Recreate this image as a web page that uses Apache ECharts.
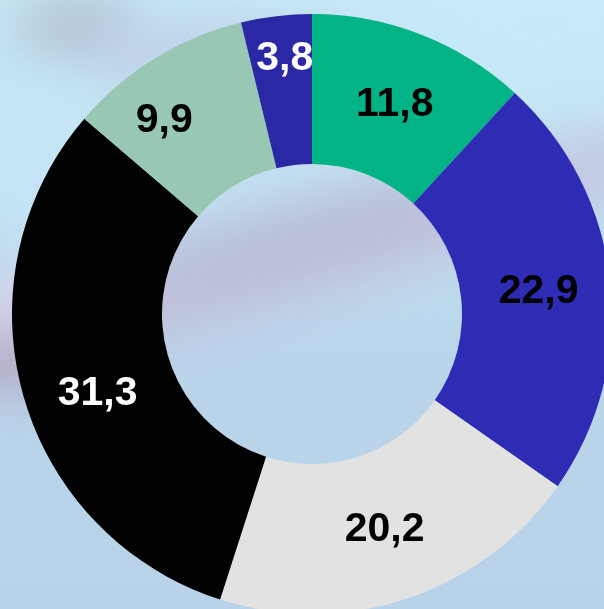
<!DOCTYPE html>
<html>
<head>
<meta charset="utf-8">
<style>
  html, body { margin: 0; padding: 0; width: 604px; height: 609px; overflow: hidden; }
  #bg { position: absolute; left: 0; top: 0; width: 604px; height: 609px; overflow: hidden;
        background: linear-gradient(to bottom, #c7eaf7 0%, #c4e5f5 20%, #bfdcef 40%, #bad5ea 60%, #b8d3e9 100%); }
  .blob { position: absolute; border-radius: 50%; filter: blur(26px); }
  #chart { position: absolute; left: 0; top: 0; width: 604px; height: 609px; }
</style>
<script src="https://cdn.jsdelivr.net/npm/echarts@6/dist/echarts.min.js"></script>
</head>
<body>
<div id="bg">
  <div class="blob" style="left:10px;top:-10px;width:130px;height:70px;background:rgba(172,182,200,0.7)"></div>
  <div class="blob" style="left:100px;top:20px;width:260px;height:80px;background:rgba(190,198,228,0.7)"></div>
  <div class="blob" style="left:-120px;top:215px;width:860px;height:80px;background:rgba(196,180,212,0.65);transform:rotate(-17deg)"></div>
  <div class="blob" style="left:120px;top:200px;width:380px;height:60px;background:rgba(176,182,206,0.5);transform:rotate(-14deg)"></div>
  <div class="blob" style="left:-50px;top:330px;width:150px;height:60px;background:rgba(176,166,190,0.8)"></div>
  <div class="blob" style="left:-50px;top:270px;width:150px;height:60px;background:rgba(222,214,234,0.75)"></div>
  <div class="blob" style="left:-40px;top:90px;width:160px;height:160px;background:rgba(198,230,246,0.7)"></div>
  <div class="blob" style="left:430px;top:-30px;width:220px;height:110px;background:rgba(198,234,248,0.8)"></div>
</div>
<div id="chart"></div>
<script>
  // Share of each group, clockwise from 12 o'clock
  const categories = ['A', 'B', 'C', 'D', 'E', 'F'];
  const values = [11.8, 22.9, 20.2, 31.3, 9.9, 3.8];
  const sliceColors = ['#02b386', '#2e2bb4', '#e2e2e2', '#000000', '#98c8b3', '#2b28a6'];
  const labelColors = ['#000', '#000', '#000', '#fff', '#000', '#fff'];

  // Per-label placement tweaks: horizontal padding, and an empty
  // line above/below (with its line height) to lift or drop the text
  const labelTweaks = [
    { lift: 0, drop: 6, padding: 0 },
    { lift: 0, drop: 4, padding: 0 },
    { lift: 0, drop: 0, padding: 0 },
    { lift: 0, drop: 36, padding: [0, 0, 0, 10] },
    { lift: 0, drop: 3, padding: [0, 57, 0, 0] },
    { lift: 58, drop: 0, padding: 0 }
  ];

  const fmt = v => v.toFixed(1).replace('.', ',');

  const chart = echarts.init(document.getElementById('chart'), null, { renderer: 'canvas' });
  chart.setOption({
    backgroundColor: 'transparent',
    animation: false,
    series: [{
      type: 'pie',
      center: [312, 314],
      radius: [150, 300],
      startAngle: 90,
      clockwise: true,
      avoidLabelOverlap: false,
      label: {
        show: true,
        position: 'inside',
        fontFamily: 'Liberation Sans, Arial, sans-serif',
        fontWeight: 'bold',
        fontSize: 41
      },
      labelLine: { show: false },
      emphasis: { disabled: true },
      itemStyle: { borderWidth: 0 },
      data: values.map((v, i) => {
        const t = labelTweaks[i];
        let text = fmt(v);
        let lh;
        if (t.lift) { text = text + '\n '; lh = t.lift; }
        if (t.drop) { text = ' \n' + text; lh = t.drop; }
        const label = { color: labelColors[i], padding: t.padding, formatter: text };
        if (lh) label.lineHeight = lh;
        return {
          name: categories[i],
          value: v,
          itemStyle: { color: sliceColors[i] },
          label
        };
      })
    }]
  });
</script>
</body>
</html>
